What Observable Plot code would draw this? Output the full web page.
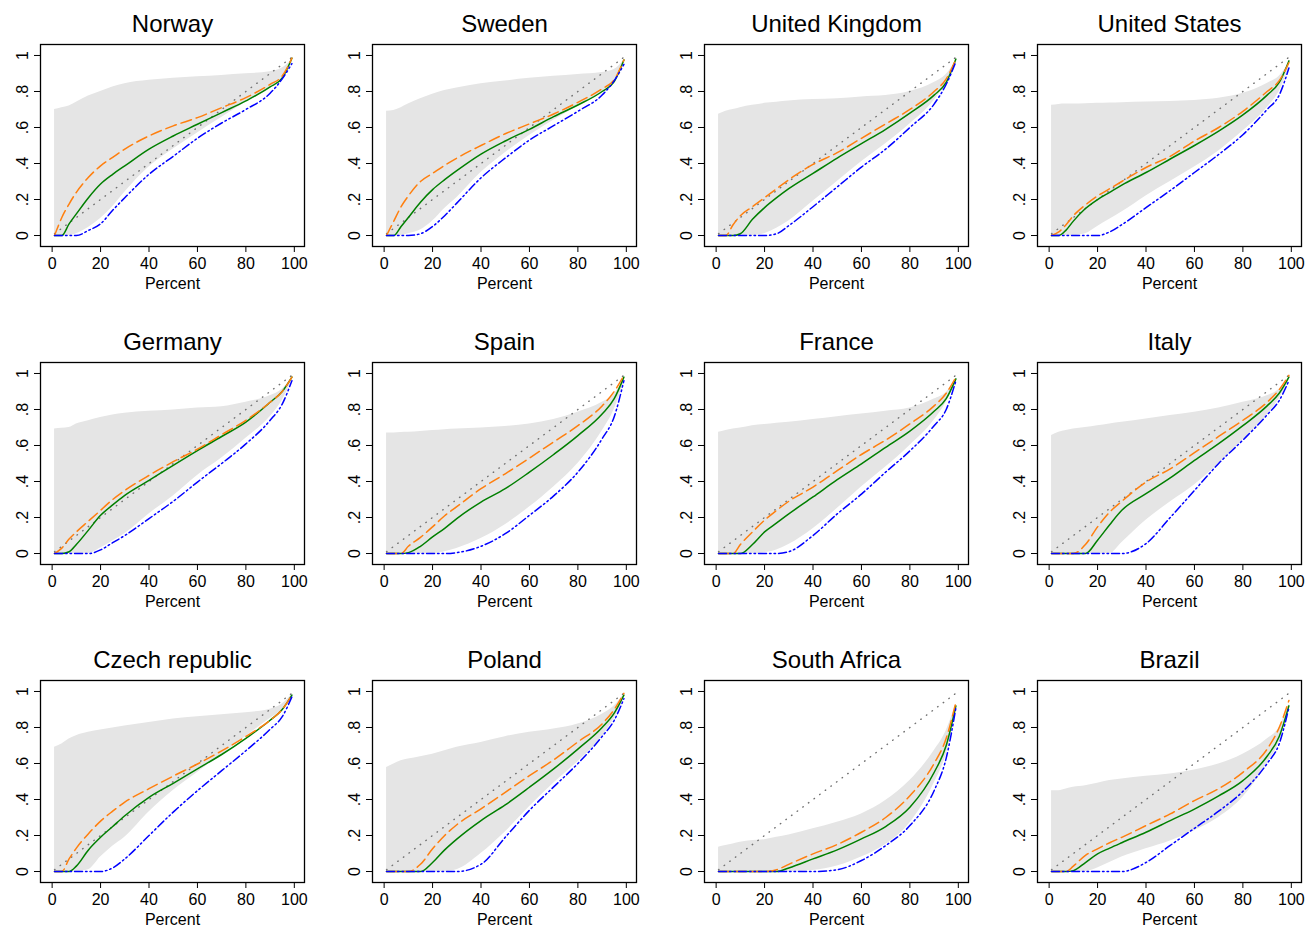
<!DOCTYPE html>
<html>
<head>
<meta charset="utf-8">
<script src="https://cdn.jsdelivr.net/npm/d3@7"></script>
<script src="https://cdn.jsdelivr.net/npm/@observablehq/plot@0.6"></script>
<style>
  html, body { margin: 0; padding: 0; background: #fff; }
  body { width: 1307px; height: 927px; overflow: hidden; position: relative; font-family: "Liberation Sans", Arial, sans-serif; }
  .panel { position: absolute; }
  .panel g[aria-label="y-axis tick label"], .panel g[aria-label="x-axis tick label"] { font-size: 16px !important; }
</style>
</head>
<body>
<div id="root"></div>
<script>
// ---------------- DATA ----------------
const countries = ["Norway", "Sweden", "United Kingdom", "United States",
                   "Germany", "Spain", "France", "Italy",
                   "Czech republic", "Poland", "South Africa", "Brazil"];

const pct = [1, 4, 7, 10, 15, 20, 25, 30, 40, 50, 60, 70, 80, 90, 95, 99];

const xTicks = [0, 20, 40, 60, 80, 100];
const yTicks = [0, 0.2, 0.4, 0.6, 0.8, 1];
const yTickLabels = ["0", ".2", ".4", ".6", ".8", "1"];

// 45-degree reference line
const diagX = [1, 99];
const diagY = [0.01, 0.99];

// upper edge of grey band
const bandUpper = [
  [0.70,0.71,0.72,0.74,0.775,0.80,0.825,0.843,0.862,0.873,0.882,0.889,0.898,0.91,0.93,0.975],
  [0.69,0.695,0.71,0.73,0.76,0.785,0.806,0.82,0.843,0.858,0.873,0.884,0.895,0.906,0.922,0.975],
  [0.673,0.69,0.70,0.71,0.723,0.734,0.74,0.747,0.755,0.76,0.77,0.778,0.80,0.85,0.895,0.97],
  [0.723,0.728,0.73,0.73,0.732,0.734,0.736,0.738,0.742,0.745,0.75,0.762,0.79,0.845,0.885,0.955],
  [0.692,0.696,0.70,0.72,0.738,0.756,0.77,0.779,0.79,0.797,0.808,0.815,0.84,0.876,0.913,0.978],
  [0.67,0.67,0.672,0.673,0.678,0.683,0.688,0.692,0.697,0.705,0.72,0.745,0.785,0.84,0.885,0.97],
  [0.673,0.683,0.692,0.697,0.71,0.716,0.723,0.729,0.744,0.76,0.775,0.79,0.808,0.858,0.895,0.968],
  [0.655,0.673,0.683,0.692,0.70,0.71,0.72,0.729,0.747,0.766,0.784,0.808,0.84,0.876,0.913,0.978],
  [0.69,0.708,0.736,0.754,0.773,0.786,0.797,0.808,0.828,0.847,0.86,0.871,0.882,0.902,0.93,0.985],
  [0.578,0.597,0.615,0.625,0.638,0.652,0.671,0.69,0.717,0.749,0.773,0.791,0.819,0.874,0.92,0.985],
  [0.135,0.144,0.153,0.163,0.172,0.177,0.19,0.203,0.237,0.274,0.32,0.394,0.505,0.671,0.782,0.93],
  [0.449,0.449,0.458,0.468,0.477,0.49,0.505,0.514,0.529,0.542,0.564,0.597,0.652,0.736,0.8,0.93]
];

// lower edge of grey band
const bandLower = [
  [0,0,0,0.01,0.045,0.095,0.16,0.24,0.38,0.48,0.57,0.655,0.74,0.82,0.88,0.96],
  [0,0,0,0.01,0.03,0.08,0.15,0.21,0.35,0.46,0.555,0.64,0.72,0.8,0.86,0.965],
  [0,0,0,0,0,0.01,0.04,0.08,0.19,0.3,0.41,0.51,0.62,0.75,0.85,0.96],
  [0,0,0,0,0.01,0.05,0.09,0.13,0.22,0.3,0.38,0.47,0.58,0.71,0.8,0.93],
  [0,0,0,0,0,0.03,0.07,0.11,0.22,0.32,0.434,0.53,0.64,0.76,0.85,0.96],
  [0,0,0,0,0,0,0.01,0.028,0.083,0.16,0.258,0.37,0.5,0.68,0.8,0.95],
  [0,0,0,0,0,0.005,0.02,0.05,0.138,0.25,0.369,0.48,0.6,0.74,0.84,0.96],
  [0,0,0,0,0,0,0,0.06,0.185,0.286,0.38,0.5,0.63,0.77,0.86,0.96],
  [0,0,0,0,0.01,0.08,0.14,0.19,0.33,0.45,0.55,0.65,0.75,0.85,0.9,0.97],
  [0,0,0,0,0,0,0,0.01,0.1,0.22,0.36,0.49,0.61,0.75,0.85,0.96],
  [0,0,0,0,0,0,0,0,0.005,0.03,0.08,0.15,0.27,0.49,0.65,0.88],
  [0,0,0,0,0,0.02,0.05,0.08,0.126,0.17,0.227,0.3,0.412,0.6,0.72,0.9]
];

// orange long-dash series
const orangeSeries = [
  [0,0.1,0.175,0.24,0.323,0.387,0.434,0.48,0.553,0.609,0.655,0.71,0.766,0.84,0.886,0.985],
  [0,0.08,0.16,0.22,0.3,0.345,0.39,0.43,0.5,0.565,0.62,0.675,0.74,0.815,0.865,0.975],
  [0,0,0.06,0.11,0.16,0.21,0.26,0.31,0.395,0.46,0.54,0.62,0.70,0.80,0.87,0.98],
  [0,0.02,0.06,0.11,0.17,0.22,0.26,0.3,0.378,0.44,0.525,0.6,0.69,0.8,0.86,0.96],
  [0,0.03,0.08,0.12,0.18,0.24,0.3,0.35,0.434,0.51,0.58,0.66,0.74,0.84,0.9,0.98],
  [0,0,0,0.04,0.09,0.148,0.21,0.26,0.36,0.443,0.53,0.62,0.71,0.82,0.9,0.99],
  [0,0,0,0.05,0.12,0.185,0.24,0.29,0.369,0.46,0.55,0.63,0.72,0.82,0.89,0.98],
  [0,0,0,0,0.05,0.148,0.23,0.29,0.397,0.47,0.56,0.65,0.74,0.84,0.91,0.99],
  [0,0,0.07,0.13,0.21,0.28,0.335,0.385,0.46,0.53,0.597,0.67,0.75,0.84,0.9,0.98],
  [0,0,0,0,0.04,0.126,0.2,0.26,0.348,0.44,0.532,0.62,0.72,0.82,0.9,0.99],
  [0,0,0,0,0,0,0.01,0.04,0.098,0.15,0.218,0.3,0.421,0.6,0.74,0.94],
  [0,0,0,0.03,0.09,0.126,0.16,0.19,0.255,0.32,0.394,0.46,0.551,0.68,0.8,0.95]
];

// green solid series
const greenSeries = [
  [0,0,0.065,0.12,0.21,0.286,0.34,0.387,0.48,0.553,0.618,0.683,0.748,0.825,0.875,0.985],
  [0,0,0.05,0.1,0.185,0.255,0.31,0.36,0.452,0.525,0.59,0.66,0.725,0.8,0.855,0.975],
  [0,0,0,0.01,0.09,0.155,0.21,0.26,0.345,0.43,0.51,0.59,0.68,0.78,0.85,0.98],
  [0,0,0.03,0.08,0.15,0.2,0.24,0.28,0.35,0.425,0.5,0.58,0.67,0.78,0.85,0.97],
  [0,0,0.01,0.05,0.13,0.212,0.27,0.323,0.406,0.49,0.572,0.65,0.73,0.84,0.9,0.98],
  [0,0,0,0.005,0.04,0.092,0.14,0.194,0.286,0.36,0.452,0.55,0.655,0.775,0.86,0.98],
  [0,0,0,0,0.05,0.12,0.17,0.22,0.314,0.41,0.498,0.59,0.68,0.79,0.86,0.97],
  [0,0,0,0,0,0.074,0.16,0.24,0.332,0.42,0.517,0.61,0.71,0.82,0.89,0.98],
  [0,0,0,0.03,0.12,0.19,0.25,0.31,0.412,0.49,0.57,0.65,0.74,0.84,0.9,0.98],
  [0,0,0,0,0,0.05,0.12,0.18,0.283,0.37,0.468,0.57,0.68,0.8,0.88,0.98],
  [0,0,0,0,0,0,0,0.02,0.07,0.12,0.181,0.25,0.357,0.55,0.7,0.92],
  [0,0,0,0.005,0.05,0.098,0.13,0.16,0.218,0.283,0.347,0.42,0.505,0.64,0.75,0.92]
];

// blue dash-dot series
const blueSeries = [
  [0,0,0,0,0.028,0.065,0.14,0.21,0.34,0.44,0.54,0.625,0.7,0.79,0.87,0.955],
  [0,0,0,0,0.01,0.05,0.11,0.18,0.32,0.43,0.53,0.61,0.69,0.78,0.86,0.95],
  [0,0,0,0,0,0,0.01,0.055,0.16,0.27,0.38,0.48,0.6,0.73,0.84,0.965],
  [0,0,0,0,0,0,0.02,0.06,0.155,0.25,0.35,0.45,0.56,0.7,0.78,0.93],
  [0,0,0,0,0,0.02,0.06,0.1,0.194,0.29,0.397,0.5,0.609,0.74,0.83,0.96],
  [0,0,0,0,0,0,0,0.005,0.04,0.11,0.212,0.32,0.452,0.637,0.76,0.96],
  [0,0,0,0,0,0,0,0.01,0.1,0.22,0.33,0.452,0.57,0.71,0.8,0.96],
  [0,0,0,0,0,0,0,0,0.055,0.2,0.35,0.5,0.63,0.77,0.85,0.96],
  [0,0,0,0,0,0,0.02,0.07,0.2,0.33,0.449,0.56,0.671,0.79,0.86,0.97],
  [0,0,0,0,0,0,0,0,0.04,0.19,0.34,0.47,0.6,0.75,0.84,0.96],
  [0,0,0,0,0,0,0,0,0,0.01,0.061,0.144,0.255,0.449,0.63,0.91],
  [0,0,0,0,0,0,0,0,0.05,0.145,0.24,0.335,0.445,0.6,0.71,0.91]
];

// ---------------- LAYOUT ----------------
const colLeft = [0, 332, 664, 997];
const rowTop = [0, 318, 636];
const root = document.getElementById("root");
const FONT = "'Liberation Sans', Arial, Helvetica, sans-serif";

countries.forEach((name, i) => {
  const rows = pct.map((x, j) => ({
    x,
    lo: bandLower[i][j],
    hi: bandUpper[i][j],
    orange: orangeSeries[i][j],
    green: greenSeries[i][j],
    blue: blueSeries[i][j]
  }));
  const diag = diagX.map((x, j) => ({x, y: diagY[j]}));

  const chart = Plot.plot({
    width: 310,
    height: 318,
    marginLeft: 40,
    marginRight: 6,
    marginTop: 44,
    marginBottom: 72,
    style: {fontFamily: FONT, fontSize: "16px", background: "white", overflow: "visible", color: "#000"},
    x: {domain: [-4.8, 104.2]},
    y: {domain: [-0.061, 1.061]},
    marks: [
      Plot.areaY(rows, {x: "x", y1: "lo", y2: "hi", fill: "#e5e5e5", curve: "monotone-x"}),
      Plot.line(diag, {x: "x", y: "y", stroke: "#707070", strokeWidth: 1.4, strokeDasharray: "0.5,6.5", strokeLinecap: "round"}),
      Plot.line(rows, {x: "x", y: "green", stroke: "#007f00", strokeWidth: 1.5, curve: "monotone-x"}),
      Plot.line(rows, {x: "x", y: "orange", stroke: "#ff7f0e", strokeWidth: 1.5, strokeDasharray: "11,5", curve: "monotone-x"}),
      Plot.line(rows, {x: "x", y: "blue", stroke: "#0000ff", strokeWidth: 1.5, strokeDasharray: "8,3,1.5,3,1.5,3", curve: "monotone-x"}),
      Plot.frame({stroke: "#000", strokeWidth: 1.3}),
      Plot.axisX({ticks: xTicks, tickSize: 6, tickPadding: 5, fontSize: 16,
                  label: "Percent", labelAnchor: "center", labelArrow: "none", labelOffset: 42}),
      Plot.axisY({ticks: yTicks, tickFormat: (d) => yTickLabels[yTicks.indexOf(d)],
                  tickSize: 6, tickPadding: 7, tickRotate: -90, fontSize: 16, label: null}),
      Plot.text([name], {frameAnchor: "top", lineAnchor: "middle", dy: -20, fontSize: 24, fill: "#000"})
    ]
  });
  const wrap = document.createElement("div");
  wrap.className = "panel";
  wrap.style.left = colLeft[i % 4] + "px";
  wrap.style.top = rowTop[Math.floor(i / 4)] + "px";
  wrap.appendChild(chart);
  root.appendChild(wrap);
});
</script>
</body>
</html>
